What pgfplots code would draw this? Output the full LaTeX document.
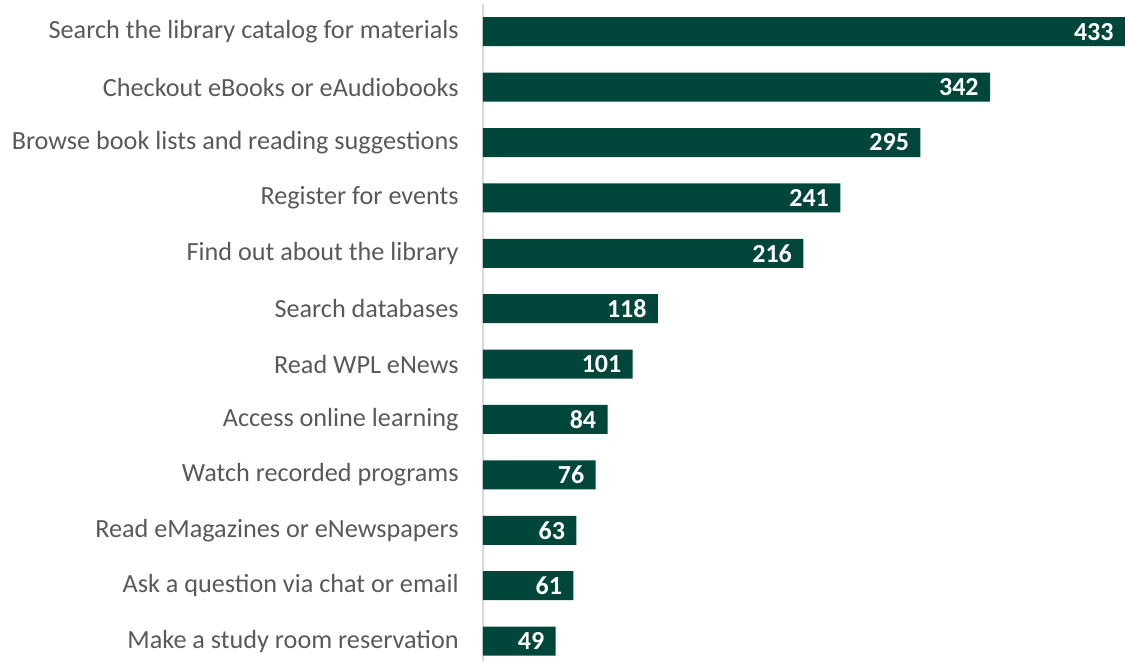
\documentclass[border=0pt]{standalone}
\usepackage{pgfplots}
\pgfplotsset{compat=1.18}
\usepackage{pgfplotstable}
\usepackage{fontspec}
\setmainfont{Carlito}
\definecolor{bargreen}{HTML}{00463A}
\definecolor{labelgray}{HTML}{595959}
\definecolor{axisgray}{HTML}{D9D9D9}

\pgfplotstableread[col sep=comma]{
idx,value,label
0,433,Search the library catalog for materials
1,342,Checkout eBooks or eAudiobooks
2,295,Browse book lists and reading suggestions
3,241,Register for events
4,216,Find out about the library
5,118,Search databases
6,101,Read WPL eNews
7,84,Access online learning
8,76,Watch recorded programs
9,63,Read eMagazines or eNewspapers
10,61,Ask a question via chat or email
11,49,Make a study room reservation
}\usage

\begin{document}
\begin{tikzpicture}
\begin{axis}[
    at={(0,0)}, anchor=south west,
    scale only axis,
    width=321pt, height=328.5pt,
    xbar, bar width=14.5pt,
    xmin=0, xmax=433,
    ymin=-0.5, ymax=11.36,
    y dir=reverse,
    axis x line=none,
    axis y line*=left,
    y axis line style={axisgray, line width=0.8pt, -},
    ytick={0,...,11},
    yticklabels from table={\usage}{label},
    major tick length=0pt,
    yticklabel style={font=\fontsize{13.1}{15}\selectfont, text=labelgray, inner sep=0pt, xshift=-12pt},
    /pgf/number format/assume math mode=true,
    nodes near coords,
    nodes near coords style={font=\bfseries\fontsize{13}{15}\selectfont, text=white, anchor=east, inner sep=0pt, xshift=-5.5pt},
    clip=false,
]
\addplot[fill=bargreen, draw=none] table[x=value, y=idx] {\usage};
\end{axis}
\pgfresetboundingbox
\path (-241.5pt,0) rectangle (321pt,330.5pt);
\end{tikzpicture}
\end{document}
